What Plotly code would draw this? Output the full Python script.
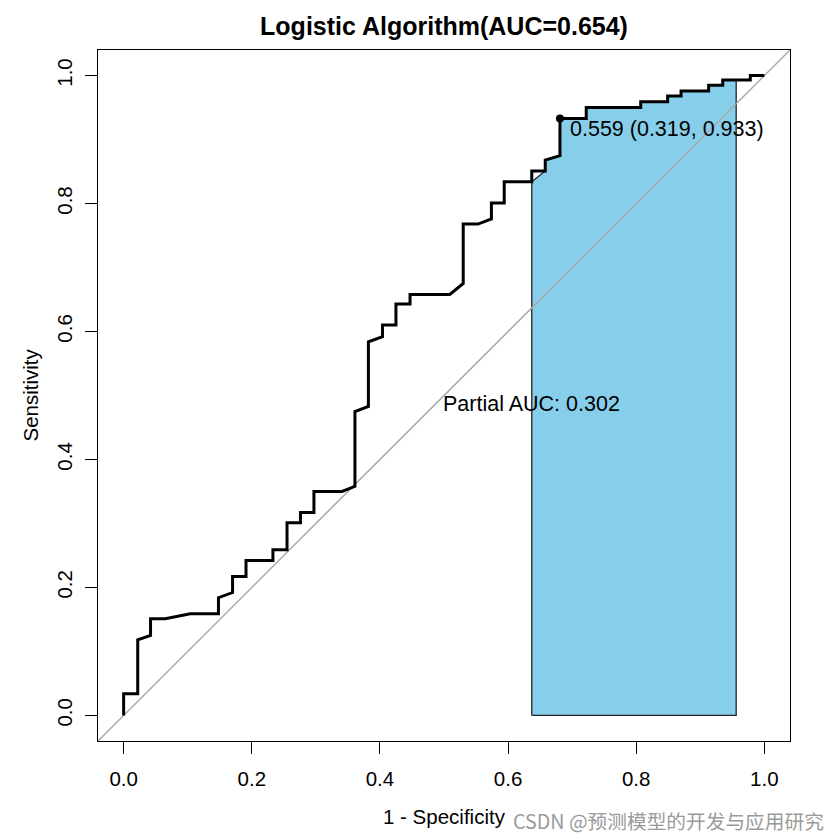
import plotly.graph_objects as go

# ROC curve vertices (1 - specificity, sensitivity)
fpr = [0, 0, 0.022, 0.022, 0.042, 0.042, 0.065, 0.104, 0.148, 0.148, 0.170, 0.170,
       0.191, 0.191, 0.233, 0.233, 0.255, 0.255, 0.276, 0.276, 0.297, 0.297, 0.341,
       0.361, 0.361, 0.382, 0.382, 0.404, 0.404, 0.425, 0.425, 0.447, 0.447, 0.509,
       0.530, 0.530, 0.553, 0.574, 0.574, 0.594, 0.594, 0.637, 0.637, 0.658, 0.658,
       0.681, 0.681, 0.722, 0.722, 0.807, 0.807, 0.849, 0.849, 0.870, 0.870, 0.913,
       0.913, 0.935, 0.935, 0.978, 0.978, 1.0]
tpr = [0, 0.034, 0.034, 0.118, 0.125, 0.151, 0.151, 0.159, 0.159, 0.184, 0.192, 0.217,
       0.217, 0.242, 0.242, 0.259, 0.259, 0.301, 0.301, 0.317, 0.317, 0.350, 0.350,
       0.358, 0.475, 0.483, 0.584, 0.592, 0.610, 0.610, 0.643, 0.643, 0.658, 0.658,
       0.675, 0.768, 0.768, 0.776, 0.801, 0.801, 0.834, 0.834, 0.851, 0.851, 0.868,
       0.875, 0.933, 0.933, 0.950, 0.950, 0.959, 0.959, 0.968, 0.968, 0.976, 0.976,
       0.985, 0.985, 0.993, 0.993, 1.0, 1.0]

best_threshold = 0.559
best_spec = 0.319
best_sens = 0.933
auc_value = 0.654
partial_auc = 0.302
partial_range = [0.637, 0.956]   # 1 - specificity bounds of the shaded region

tick_vals = [0, 0.2, 0.4, 0.6, 0.8, 1.0]
tick_text = ["0.0", "0.2", "0.4", "0.6", "0.8", "1.0"]


def interp(x):
    for i in range(len(fpr) - 1):
        x0, x1 = fpr[i], fpr[i + 1]
        if x0 <= x <= x1 and x1 > x0:
            return tpr[i] + (tpr[i + 1] - tpr[i]) * (x - x0) / (x1 - x0)
    for i in range(len(fpr)):
        if fpr[i] == x:
            return tpr[i]
    return None


lo, hi = partial_range
px = [lo, lo]
py = [0, interp(lo)]
for x, y in zip(fpr, tpr):
    if lo < x < hi:
        px.append(x)
        py.append(y)
px += [hi, hi, lo]
py += [interp(hi), 0, 0]

fig = go.Figure()
fig.add_trace(go.Scatter(x=px, y=py, mode="lines", fill="toself",
                         fillcolor="#87CEEB", line=dict(color="#222222", width=1.3),
                         hoverinfo="skip", showlegend=False))
fig.add_trace(go.Scatter(x=[-0.04, 1.04], y=[-0.04, 1.04], mode="lines",
                         line=dict(color="#A9A9A9", width=1.5), showlegend=False))
fig.add_trace(go.Scatter(x=fpr, y=tpr, mode="lines",
                         line=dict(color="black", width=3), showlegend=False))
fig.add_trace(go.Scatter(x=[1 - best_spec], y=[best_sens], mode="markers",
                         marker=dict(color="black", size=8), showlegend=False))

font_main = "Liberation Sans, Arial, sans-serif"
txt = 21.5

fig.add_annotation(x=1 - best_spec + 0.012, y=best_sens - 0.016, xref="x", yref="y",
                   text=f"{best_threshold:.3f} ({best_spec:.3f}, {best_sens:.3f})",
                   showarrow=False, xanchor="left", yanchor="middle",
                   font=dict(size=txt, color="black", family=font_main))
fig.add_annotation(x=lo, y=0.487, xref="x", yref="y",
                   text=f"Partial AUC: {partial_auc:.3f}",
                   showarrow=False, xanchor="center", yanchor="middle",
                   font=dict(size=txt, color="black", family=font_main))
fig.add_annotation(x=0.5, y=0, xref="paper", yref="paper", yshift=-75,
                   text="1 - Specificity", showarrow=False, yanchor="middle",
                   font=dict(size=20.5, color="black", family=font_main))
fig.add_annotation(x=0, y=0.5, xref="paper", yref="paper", xshift=-68,
                   text="Sensitivity", showarrow=False, textangle=-90, xanchor="center",
                   font=dict(size=20.5, color="black", family=font_main))
fig.add_annotation(x=1, y=0, xref="paper", yref="paper", xanchor="right",
                   yanchor="middle", xshift=36, yshift=-79, showarrow=False,
                   text="CSDN @预测模型的开发与应用研究",
                   font=dict(size=19.7, color="#9a9a9a", family="Noto Sans CJK SC, sans-serif"))

fig.update_layout(
    width=840, height=840,
    margin=dict(l=98, r=50, t=50, b=99),
    paper_bgcolor="white", plot_bgcolor="white",
    title=dict(text=f"<b>Logistic Algorithm(AUC={auc_value:.3f})</b>",
               x=0.5, xref="paper", y=1 - 26 / 840, yref="container",
               xanchor="center", yanchor="middle",
               font=dict(size=25, color="black", family=font_main)),
    font=dict(family=font_main, color="black"),
)

axis_common = dict(range=[-0.04, 1.04], showgrid=False, zeroline=False,
                   showline=True, linecolor="black", linewidth=1, mirror=True,
                   ticks="outside", ticklen=12, tickcolor="black", tickwidth=1,
                   tickvals=tick_vals, ticktext=tick_text,
                   tickfont=dict(size=20.5, color="black", family=font_main))
fig.update_xaxes(**axis_common, ticklabelstandoff=7)
fig.update_yaxes(**axis_common, tickangle=-90, ticklabelstandoff=5)

fig.write_html("out.html", config={"displayModeBar": False},
               post_script="document.body.style.margin='0';document.body.style.overflow='hidden';")
